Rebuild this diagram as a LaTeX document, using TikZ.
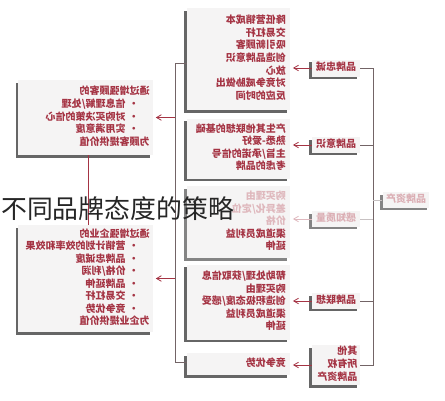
\documentclass[tikz,border=0pt]{standalone}
\usepackage{fontspec}
\usepackage{graphicx}
\newfontfamily\cjk{Noto Sans CJK SC}
\usetikzlibrary{arrows, positioning, shadows}
\definecolor{brandred}{RGB}{165,52,68}
\definecolor{boxgray}{RGB}{245,244,244}
\definecolor{railgray}{RGB}{115,100,102}
\newcommand{\mirror}[1]{\reflectbox{\begin{tabular}{@{}l@{}}#1\end{tabular}}}
\newcommand{\bul}{\hspace*{8pt}\textbullet\hspace{2.5pt}}
\newcommand{\faint}{\color{brandred!35}}
\tikzset{
x=0.75pt, y=-0.75pt, % one unit is one pixel of the reference
>=angle 60, % thin open arrow heads
every node/.style={font=\cjk\bfseries\fontsize{7.5}{9.4}\selectfont, text=brandred},
effect/.style={rectangle, fill=boxgray, inner sep=0pt,
  drop shadow={shadow xshift=-2pt, shadow yshift=-2pt, fill=black!75, opacity=0.8}},
effbox/.style={effect, minimum width=77.25pt, text width=71pt, align=right, inner xsep=3.1pt},
tag/.style={effect, minimum width=36pt, minimum height=10.5pt, inner sep=1pt},
valbox/.style={effect, minimum width=101pt, text width=96pt, align=right, inner xsep=2.5pt},
faded/.style={drop shadow={shadow xshift=-2pt, shadow yshift=-2pt, fill=black!30, opacity=0.4}},
rail/.style={draw=railgray, line width=0.6pt},
link/.style={draw=brandred, line width=0.6pt, ->, shorten >=2pt}
}

\begin{document}
\begin{tikzpicture}
      \useasboundingbox (0,0) rectangle (445,400);

      % what the brand equity gives
      \node[effbox, minimum height=76.5pt] (box1) at (238.5,59)
        {\mirror{降低营销成本\\交易杠杆\\吸引新顾客\\创造品牌意识\\放心\\对竞争威胁做出\\反应的时间}};
      \node[effbox, minimum height=45pt, below=6pt of box1] (box2)
        {\mirror{产生其他联想的基础\\熟悉-爱好\\主旨/承诺的信号\\考虑的品牌}};
      \node[effbox, faded, minimum height=54pt, below=5.25pt of box2] (box3)
        {\mirror{\faint 购买理由\\\faint 差异化/定位\\\faint 价格\\渠道成员利益\\延伸}};
      \node[effbox, minimum height=56.25pt, below=4.5pt of box3] (box4)
        {\mirror{帮助处理/获取信息\\购买理由\\创造积极态度/感受\\渠道成员利益\\延伸}};
      \node[effbox, minimum height=16.5pt] (box5) at (238.5,364) {\mirror{竞争优势}};

      % the parts of the brand equity
      \node[tag, minimum height=12.75pt] (loyal) at (336,68) {\mirror{品牌忠诚}};
      \node[tag] (aware) at (336,145) {\mirror{品牌意识}};
      \node[tag, faded, text=brandred!40] (quality) at (336,219) {\mirror{感知质量}};
      \node[tag] (assoc) at (336,301) {\mirror{品牌联想}};
      \node[tag, minimum height=30pt, text width=32pt, align=right, inner xsep=2pt] (other) at (336,365)
        {\mirror{其他\\所有权\\品牌资产}};
      \node[tag, faded, text=brandred!40, minimum width=35pt] (equity) at (406,200) {\mirror{品牌资产}};

      % the value for the customer and for the firm
      \node[valbox, minimum height=56.25pt] (custval) at (85.5,117.5)
        {\mirror{通过增强顾客的\\\bul 信息理解/处理\\\bul 对购买决策的信心\\\bul 实用满意度\\为顾客提供价值}};
      \node[valbox, minimum height=80.25pt] (firmval) at (85.5,278.5)
        {\mirror{通过增强企业的\\\bul 营销计划的效率和效果\\\bul 品牌忠诚度\\\bul 价格/利润\\\bul 品牌延伸\\\bul 交易杠杆\\\bul 竞争优势\\为企业提供价值}};

      \coordinate (rrail) at (373,200);
      \coordinate (lrail) at (175,200);

      \draw[rail] (loyal.east) -- (loyal.east -| rrail) -- (other.east -| rrail) -- (other.east);
      \draw[rail] (aware.east) -- (aware.east -| rrail);
      \draw[rail, draw=railgray!40] (quality.east) -- (quality.east -| rrail);
      \draw[rail] (assoc.east) -- (assoc.east -| rrail);
      \draw[rail, draw=railgray!40] (equity.west) -- (equity.west -| rrail);

      \draw[link] (loyal.west) -- (loyal.west -| box1.east);
      \draw[link] (aware.west) -- (aware.west -| box2.east);
      \draw[link, draw=brandred!35] (quality.west) -- (quality.west -| box3.east);
      \draw[link] (assoc.west) -- (assoc.west -| box4.east);
      \draw[link] (other.west) -- (other.west -| box5.east);

      \draw[rail] ([yshift=-3pt]box1.west) -- ([yshift=-3pt]box1.west -| lrail)
        -- ([yshift=1.5pt]box5.west -| lrail) -- ([yshift=1.5pt]box5.west);
      \draw[link] (custval.east -| lrail) -- (custval.east);
      \draw[link] (firmval.east -| lrail) -- (firmval.east);
      \draw[draw=brandred, line width=0.6pt] ([xshift=2pt]custval.south) -- ([xshift=2pt]firmval.north);

      \node[anchor=west, inner sep=0pt, text=black!85, font=\cjk\mdseries\fontsize{19.4}{20}\selectfont] (title)
        at (1,209) {不同品牌态度的策略};
    \end{tikzpicture}
\end{document}
